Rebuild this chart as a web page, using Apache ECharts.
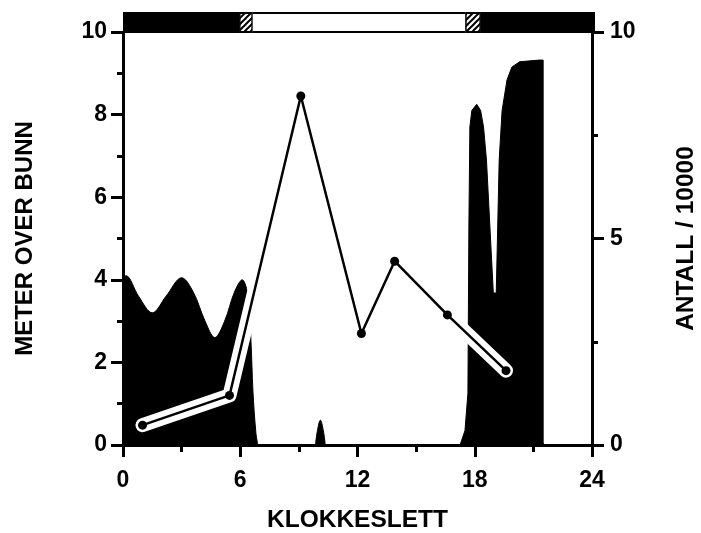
<!DOCTYPE html>
<html>
<head>
<meta charset="utf-8">
<script src="https://cdn.jsdelivr.net/npm/echarts@6/dist/echarts.min.js"></script>
<style>html,body{margin:0;padding:0;background:#fff}#c{width:701px;height:533px}</style>
</head>
<body>
<div id="c"></div>
<script>
// ---- data ----
var hourTicks = [0, 6, 12, 18, 24];
var depthTicks = [0, 2, 4, 6, 8, 10];
var countTicks = [0, 5, 10];

// black distribution (left block): hour, meters over bottom
var leftHours   = [0, 0.15, 0.8, 1.5, 2.2, 3.0, 3.6, 4.2, 4.7, 5.2, 5.7, 6.1, 6.4, 6.55, 6.65, 6.8, 6.9];
var leftHeights = [4.05, 4.1, 3.6, 3.2, 3.6, 4.05, 3.7, 3.0, 2.6, 3.0, 3.7, 4.0, 3.6, 2.5, 1.3, 0.3, 0];

// small blip around 10 h
var blipHours   = [9.85, 9.95, 10.1, 10.25, 10.35];
var blipHeights = [0, 0.35, 0.6, 0.35, 0];

// black distribution (right block)
var rightHours   = [17.25, 17.5, 17.65, 17.7, 17.75, 17.85, 18.1, 18.3, 18.45, 18.6, 18.95, 19.1, 19.25, 19.4, 19.65, 19.9, 20.3, 21.3, 21.5, 21.5, 21.55];
var rightHeights = [0, 0.35, 1.25, 5.3, 7.7, 8.1, 8.25, 8.1, 7.7, 6.9, 3.68, 3.68, 6.9, 8.1, 8.84, 9.15, 9.28, 9.32, 9.32, 0.05, 0];

// counts / 10000
var countHours  = [1.0, 5.45, 9.1, 12.2, 13.9, 16.6, 19.6];
var countValues = [0.48, 1.2, 8.45, 2.7, 4.45, 3.15, 1.8];

// light regime bar: [start, end, kind]
var lightStart = [0, 5.9, 6.6, 17.4, 18.2];
var lightEnd   = [5.9, 6.6, 17.4, 18.2, 24];
var lightKind  = ['night', 'twilight', 'day', 'twilight', 'night'];

function pairs(a, b) { return a.map(function (v, i) { return [v, b[i]]; }); }

// hatch pattern
var pc = document.createElement('canvas');
pc.width = 6; pc.height = 6;
var g = pc.getContext('2d');
g.fillStyle = '#fff'; g.fillRect(0, 0, 6, 6);
g.strokeStyle = '#000'; g.lineWidth = 2;
g.beginPath(); g.moveTo(-1, 7); g.lineTo(7, -1); g.stroke();
g.beginPath(); g.moveTo(-4, 4); g.lineTo(4, -4); g.stroke();
g.beginPath(); g.moveTo(2, 10); g.lineTo(10, 2); g.stroke();

var FONT = '"Liberation Sans", Arial, Helvetica, sans-serif';
var chart = echarts.init(document.getElementById('c'), null, {renderer: 'canvas'});

var lightData = lightStart.map(function (s, i) { return [s, lightEnd[i], lightKind[i]]; });

chart.setOption({
  animation: false,
  backgroundColor: '#fff',
  grid: [
    {left: 123, right: 109, top: 32, bottom: 88, containLabel: false, outerBoundsMode: 'none'},
    {left: 123, right: 106, top: 12, height: 21, containLabel: false, outerBoundsMode: 'none'}
  ],
  xAxis: [
    {
      gridIndex: 0, type: 'value', min: 0, max: 24, interval: 6,
      name: 'KLOKKESLETT', nameLocation: 'middle', nameGap: 63,
      nameTextStyle: {fontFamily: FONT, fontWeight: 'bold', fontSize: 24.5, color: '#000'},
      axisLine: {show: true, onZero: false, lineStyle: {color: '#000', width: 3}},
      axisTick: {show: true, inside: false, length: 12, lineStyle: {color: '#000', width: 3}},
      minorTick: {show: true, splitNumber: 2, length: 7, lineStyle: {color: '#000', width: 3}},
      axisLabel: {fontFamily: FONT, fontWeight: 'bold', fontSize: 23, color: '#000', margin: 24,
        formatter: function (v) { return hourTicks.indexOf(v) >= 0 ? String(v) : ''; }},
      splitLine: {show: false}
    },
    {
      gridIndex: 1, type: 'value', min: 0, max: 24, show: false
    }
  ],
  yAxis: [
    {
      gridIndex: 0, type: 'value', min: 0, max: 10, interval: 2, position: 'left',
      name: 'METER OVER BUNN', nameLocation: 'middle', nameGap: 86, nameRotate: 90,
      nameTextStyle: {fontFamily: FONT, fontWeight: 'bold', fontSize: 24, color: '#000'},
      axisLine: {show: true, onZero: false, lineStyle: {color: '#000', width: 3}},
      axisTick: {show: true, length: 12, lineStyle: {color: '#000', width: 3}},
      minorTick: {show: true, splitNumber: 2, length: 6, lineStyle: {color: '#000', width: 3}},
      axisLabel: {fontFamily: FONT, fontWeight: 'bold', fontSize: 23, color: '#000', margin: 16,
        formatter: function (v) { return depthTicks.indexOf(v) >= 0 ? String(v) : ''; }},
      splitLine: {show: false}
    },
    {
      gridIndex: 0, type: 'value', min: 0, max: 10, interval: 5, position: 'right',
      name: 'ANTALL / 10000', nameLocation: 'middle', nameGap: 82, nameRotate: 90,
      nameTextStyle: {fontFamily: FONT, fontWeight: 'bold', fontSize: 24.5, color: '#000'},
      axisLine: {show: true, onZero: false, lineStyle: {color: '#000', width: 3}},
      axisTick: {show: true, length: 12, lineStyle: {color: '#000', width: 3}},
      minorTick: {show: true, splitNumber: 2, length: 6, lineStyle: {color: '#000', width: 3}},
      axisLabel: {fontFamily: FONT, fontWeight: 'bold', fontSize: 23, color: '#000', margin: 18,
        formatter: function (v) { return countTicks.indexOf(v) >= 0 ? String(v) : ''; }},
      splitLine: {show: false}
    },
    {
      gridIndex: 1, type: 'value', min: 0, max: 1, show: false
    }
  ],
  series: [
    {
      type: 'line', xAxisIndex: 0, yAxisIndex: 0, data: pairs(leftHours, leftHeights),
      smooth: 0.35, symbol: 'none', lineStyle: {color: '#000', width: 1},
      areaStyle: {color: '#000', opacity: 1, origin: 'start'}, z: 1
    },
    {
      type: 'line', xAxisIndex: 0, yAxisIndex: 0, data: pairs(blipHours, blipHeights),
      smooth: 0.4, symbol: 'none', lineStyle: {color: '#000', width: 1},
      areaStyle: {color: '#000', opacity: 1, origin: 'start'}, z: 1
    },
    {
      type: 'line', xAxisIndex: 0, yAxisIndex: 0, data: pairs(rightHours, rightHeights),
      smooth: false, symbol: 'none', lineStyle: {color: '#000', width: 1},
      areaStyle: {color: '#000', opacity: 1, origin: 'start'}, z: 1
    },
    {
      type: 'line', xAxisIndex: 0, yAxisIndex: 1, data: pairs(countHours, countValues),
      symbol: 'none', showSymbol: false, lineStyle: {color: '#fff', width: 14, cap: 'round', join: 'round'}, z: 2
    },
    {
      type: 'line', xAxisIndex: 0, yAxisIndex: 1, data: pairs(countHours, countValues),
      symbol: 'none', showSymbol: false,
      lineStyle: {color: '#000', width: 2.5, join: 'round'}, z: 3
    },
    {
      type: 'scatter', xAxisIndex: 0, yAxisIndex: 1, data: pairs(countHours, countValues),
      symbol: 'circle', symbolSize: 9, itemStyle: {color: '#000', borderWidth: 0, opacity: 1}, z: 5
    },
    {
      type: 'custom', xAxisIndex: 1, yAxisIndex: 2, data: lightData,
      renderItem: function (params, api) {
        var p0 = api.coord([api.value(0), 1]);
        var p1 = api.coord([api.value(1), 0]);
        var kind = lightData[params.dataIndex][2];
        var x = p0[0], y = p0[1], w = p1[0] - p0[0], h = p1[1] - p0[1];
        if (kind === 'night') {
          return {type: 'rect', shape: {x: x, y: y, width: w, height: h}, style: {fill: '#000'}};
        }
        var fill = kind === 'day' ? '#fff' : {image: pc, repeat: 'repeat'};
        return {type: 'group', children: [
          {type: 'rect', shape: {x: x, y: y, width: w, height: h}, style: {fill: '#000'}},
          {type: 'rect', shape: {x: x + (kind === 'day' ? 0 : 1.5), y: y + 2, width: w - (kind === 'day' ? 0 : 3), height: h - 4}, style: {fill: fill}}
        ]};
      },
      z: 4
    }
  ]
});
</script>
</body>
</html>
